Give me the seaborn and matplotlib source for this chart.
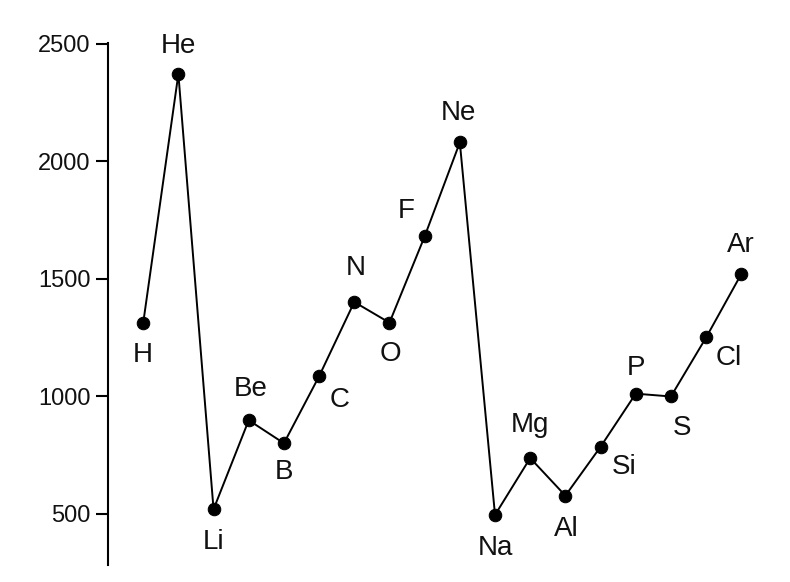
import matplotlib
matplotlib.use("Agg")
import matplotlib.pyplot as plt
import seaborn as sns
import pandas as pd

elements = ["H", "He", "Li", "Be", "B", "C", "N", "O", "F", "Ne",
            "Na", "Mg", "Al", "Si", "P", "S", "Cl", "Ar"]
energies = [1312, 2372, 520, 899, 801, 1086, 1402, 1314, 1681, 2081,
            496, 738, 578, 786, 1012, 1000, 1251, 1521]
y_ticks = [500, 1000, 1500, 2000, 2500]

# label offsets (pixels, relative to point): placement only
label_offsets = [(0, -32), (0, 28), (0, -33), (2, 31), (0, -29), (21, -24),
                 (1, 34), (1, -31), (-18, 25), (-1, 29), (0, -33), (0, 33),
                 (1, -33), (24, -20), (0, 26), (11, -32), (23, -21), (0, 29)]

sns.set_style("white")
plt.rcParams['font.family'] = ['Liberation Sans', 'DejaVu Sans']

df = pd.DataFrame({"idx": range(len(elements)), "energy": energies, "el": elements})

fig = plt.figure(figsize=(7.9, 5.82), dpi=100)
ax = fig.add_axes([108/790, 17/582, 672/790, 522/582])

sns.lineplot(data=df, x="idx", y="energy", ax=ax, color="black", linewidth=1.4,
             marker="o", markersize=9, markeredgecolor="black",
             markerfacecolor="black")

px2pt = 72 / 100
for (i, row), (dx, dy) in zip(df.iterrows(), label_offsets):
    ax.annotate(row["el"], (row["idx"], row["energy"]),
                xytext=(dx * px2pt, dy * px2pt), textcoords="offset points",
                ha="center", va="center", fontsize=20, color="#111111")

ax.set_xlim(-1.0, 18.1)
ax.set_ylim(283, 2504)
ax.set_yticks(y_ticks)
ax.set_xticks([])
ax.set_xlabel("")
ax.set_ylabel("")
for s in ["top", "right", "bottom"]:
    ax.spines[s].set_visible(False)
ax.spines["left"].set_linewidth(1.5)
ax.spines["left"].set_color("black")
ax.tick_params(axis="y", direction="out", length=9, width=1.5, pad=3.5,
               labelsize=17, left=True, colors="black")
for lbl in ax.get_yticklabels():
    lbl.set_color("#111111")

fig.savefig("out.png", dpi=100)
